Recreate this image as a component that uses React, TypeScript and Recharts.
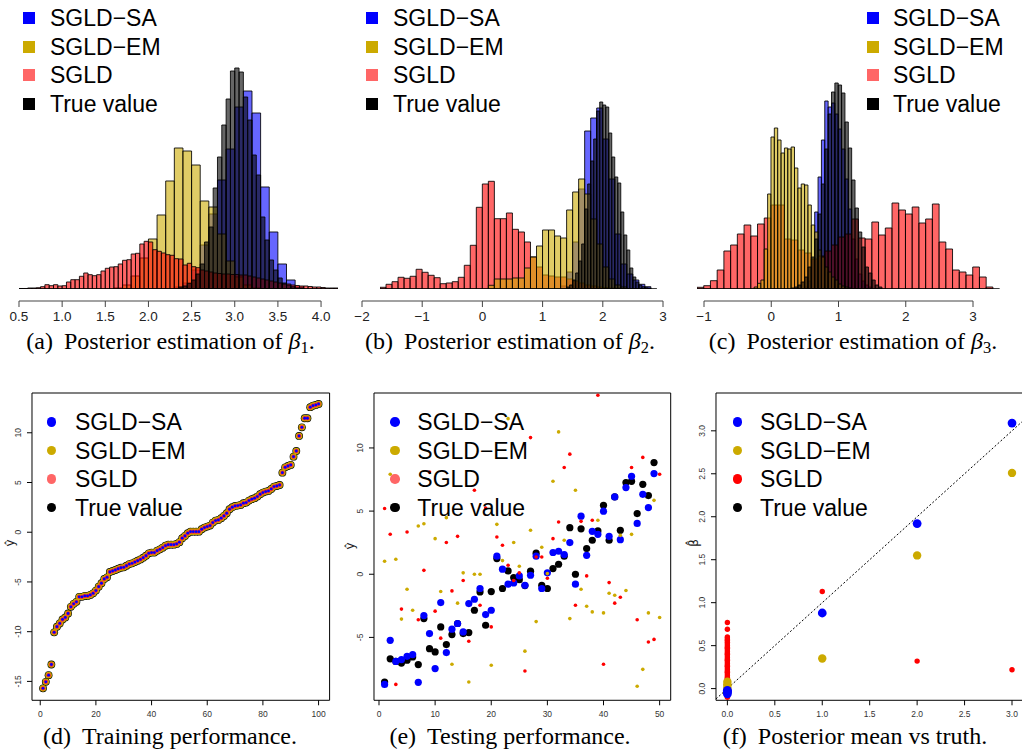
import React from "react";
import {
  BarChart,
  Bar,
  XAxis,
  YAxis,
  ReferenceLine,
  ReferenceArea,
  ScatterChart,
  Scatter,
} from "recharts";

const SANS = "'Liberation Sans', Arial, sans-serif";
const SERIF = "'Liberation Serif', 'Times New Roman', serif";

const BLUE = "#0000ff";
const GOLD = "#ccaa00";
const RED = "#ff0000";
const SALMON = "#ff6666";
const BLACK = "#000000";

const methods = ["SGLD−SA", "SGLD−EM", "SGLD", "True value"];

// ---------- (a) beta_1: bar heights, first bin starts at *Start ----------
const aSAStart = 2.3; // bin 0.1
const aSA = [2, 6, 19, 44, 75, 109, 140, 182, 198, 176, 102, 57, 25, 9, 2];
const aEMStart = 1.6; // bin 0.1
const aEM = [1, 4, 13, 31, 50, 74, 108, 141, 138, 124, 88, 82, 55, 28, 12, 4, 1];
const aSGLDStart = 0.5; // bin 0.05
const aSGLD = [
  0.5, 0.5, 1, 1, 1.3, 2.3, 4.3, 3.3, 4.3, 3,
  3.3, 7, 9.3, 9.3, 12.7, 16, 14.3, 13.3, 14.3, 18,
  20.7, 22, 22.3, 25, 28.7, 29.3, 35, 35.7, 45, 47.7,
  47, 39.3, 37.7, 36, 34.3, 33.7, 30.3, 30, 24, 25.7,
  22.3, 21.3, 19, 18, 17, 16, 15.5, 15, 15, 14.5,
  14.5, 14, 14, 13, 12, 11, 10, 9, 8, 7,
  6, 5, 5, 4, 3.5, 3, 3, 2.5, 2, 2,
  1.5, 1, 1, 1,
];
const aTrueStart = 2.35; // bin 0.05
const aTrue = [
  2, 3, 5.7, 9, 15, 25, 47, 62, 101, 132, 164, 190, 218, 221, 217, 192, 169,
  134, 114, 72, 49, 29, 19, 11, 6, 4, 2.3, 1, 1,
];

// ---------- (b) beta_2 ----------
const bSAStart = 1.3; // bin 0.1
const bSA = [3, 17, 47, 100, 158, 171, 181, 150, 110, 55, 25, 15, 9, 4.7, 2.3];
const bEMStart = 0.1; // bin 0.1
const bEM = [3.7, 10, 10, 10, 11, 11, 21, 32, 43, 59, 59, 53, 51, 79, 97, 110, 95, 70, 45, 22, 10, 4, 2];
const bSGLDStart = -1.7; // bin 0.1
const bSGLD = [
  1.7, 4.7, 7.3, 11.7, 10.7, 12.7, 19.7, 16.7, 13.7, 11.3,
  5.3, 6, 7.3, 11.7, 23.7, 43.7, 81.7, 105, 107.7, 70.3,
  70.3, 76, 59.7, 57, 47, 32, 22, 14, 13, 12,
  12, 10, 8, 6, 4, 3, 2, 1.5, 1, 1,
];
const bTrueStart = 1.4; // bin 0.05
const bTrue = [
  2, 4, 9, 16, 28, 45, 80, 105, 128, 150, 178, 187, 184, 182, 156, 132, 112,
  106, 77, 54, 39, 21, 12, 7, 4, 2.3, 1.3, 1,
];

// ---------- (c) beta_3 ----------
const cSAStart = 0.5; // bin 0.05
const cSA = [2, 8, 30, 77, 112, 149, 188, 182, 186, 175, 160, 140, 110, 80, 50, 30, 15, 8, 4, 2];
const cEMStart = -0.25; // bin 0.05
const cEM = [
  2, 5.7, 9, 40, 95, 152, 161, 149, 136, 141, 140, 142, 121, 101, 105, 104,
  84, 64, 57, 39, 32, 22, 17, 12, 9, 5, 3, 2, 1,
];
const cSGLDStart = -1.1; // bin 0.1
const cSGLD = [
  1.7, 3.3, 8.3, 19, 38, 44, 55, 64, 53, 65,
  71, 84, 84, 50, 49, 39, 36, 30, 33, 38,
  44, 52, 55, 70, 51, 50, 67, 54, 61, 86,
  79, 75, 82, 66, 70, 85, 47, 40, 19, 17,
  14, 22, 12, 2,
];
const cTrueStart = 0.3; // bin 0.05
const cTrue = [
  1, 2, 4, 7, 12, 22, 32, 50, 75, 105, 140, 175, 197, 206, 204, 196, 167, 141,
  109, 81, 57, 42, 22, 16, 9, 4, 2,
];

// ---------- (d) training: sorted responses, x = 1..100 ----------
const trainTrue = [
  -15.7, -15.04, -14.37, -13.3, -10.07, -9.5, -9.17, -8.77, -8.57, -8.17,
  -7.5, -7.2, -7.0, -6.5, -6.5, -6.4, -6.4, -6.3, -6.14, -5.87,
  -5.47, -5.13, -4.7, -4.53, -4.0, -3.9, -3.8, -3.67, -3.57, -3.53,
  -3.37, -3.2, -3.13, -3.0, -2.87, -2.73, -2.56, -2.36, -2.12, -2.05,
  -2.05, -1.85, -1.72, -1.55, -1.35, -1.25, -1.25, -1.25, -1.18, -1.0,
  -0.6, -0.37, -0.1, 0.06, 0.06, 0.06, 0.06, 0.3, 0.47, 0.57,
  0.67, 0.97, 1.17, 1.24, 1.41, 1.64, 1.91, 2.31, 2.51, 2.64,
  2.68, 2.75, 2.92, 2.98, 3.18, 3.32, 3.42, 3.59, 3.82, 3.99,
  4.09, 4.15, 4.35, 4.59, 4.65, 4.75, 5.99, 6.53, 6.66, 6.77,
  7.6, 8.17, 9.68, 10.55, 11.46, 11.46, 12.57, 12.73, 12.8, 12.9,
];
// the three fits sit on top of the truth at this scale
const trainSA = trainTrue;
const trainEM = trainTrue;
const trainSGLD = trainTrue;

// ---------- (e) testing, x = 1..50 ----------
const testTrue = [
  -8.53, -6.7, -6.9, -7.03, -6.81, -6.55, -7.15, -3.51, -5.89, -6.15,
  -4.17, -5.57, -4.78, -3.9, -4.7, -4.62, -2.85, -1.4, -4.04, -1.37,
  1.24, -1.13, 0.26, -0.26, -0.43, -0.9, 0.24, 1.67, -0.87, -1.13,
  0.45, 0.79, 1.43, 3.69, 0.0, 3.6, 2.03, 2.69, 3.43, 5.46,
  2.69, 6.12, 3.48, 7.26, 7.36, 4.8, 7.12, 6.23, 8.84,
];
const testSA = [
  -8.72, -5.23, -6.9, -6.76, -6.5, -6.36, -8.56, -3.27, -4.7, -7.47,
  -2.24, -6.2, -4.35, -3.9, -4.57, -2.32, -1.98, -1.13, -3.19, -2.85,
  1.43, 0.4, -0.79, -0.69, -0.13, -0.87, -0.08, 1.43, -1.13, 0.11,
  1.72, 1.82, 1.56, 2.51, -0.79, 4.6, 1.5, 3.4, 3.16, 4.99,
  3.0, 6.12, 2.74, 6.86, 7.76, 4.02, 6.33, 5.28, 7.97,
];
const testEM = [
  1.03, 7.92, 1.19, -3.55, -1.19, -2.85, 3.82, 4.0, null, 2.82,
  -1.37, 4.48, -7.13, -2.29, 0.11, -8.53, 0.0, 0.0, null, -7.2,
  3.95, 1.08, 12.32, 2.51, 0.63, -6.09, 3.48, -3.75, 2.14, 0.05,
  7.36, 11.27, 2.69, -3.51, 6.65, -1.19, -2.53, -2.98, 4.27, -3.06,
  -1.5, -1.66, 3.08, -1.29, 3.16, -8.87, -7.53, -3.06, 5.85, -3.43,
];
const testSGLD = [
  5.2, 3.17, -8.72, -2.76, 3.35, null, -3.6, 0.31, 8.1, -2.92,
  -5.06, 2.51, -1.32, 3.0, -0.5, -5.3, 6.65, -2.45, 5.25, -4.17,
  2.95, 2.29, 0.71, -0.5, 0.11, -7.66, 10.82, 1.37, 1.37, -0.32,
  2.82, 4.14, 8.45, 9.51, -2.45, 4.19, -0.13, 4.27, 14.17, -7.13,
  -0.66, -2.29, -1.82, null, 8.45, -3.6, 9.25, -5.37, -5.16, 7.92,
];

// ---------- (f) posterior mean vs truth ----------
const fTruth = [1, 2, 3];
const fSA = [0.88, 1.92, 3.09];
const fEM = [0.35, 1.55, 2.51];
const fSGLD = [1.13, 0.32, 0.22];
const fSAZero = [-0.06, -0.04, -0.03, -0.02];
const fEMZero = [0.08, 0.05, 0.03, 0.0, -0.03];
const fSGLDZero = [
  0.77, 0.69, 0.6, 0.59, 0.57, 0.56, 0.54, 0.52, 0.5, 0.48, 0.47, 0.45, 0.43,
  0.41, 0.4, 0.38, 0.36, 0.34, 0.33, 0.31, 0.29, 0.27, 0.26, 0.24, 0.22, 0.2,
  0.19, 0.17, 0.15, 0.13, 0.12, 0.1, 0.08, 0.06, 0.05, 0.03, 0.01, -0.01,
  -0.03, -0.05, -0.08, -0.1,
];

// ---------------------------------------------------------------------

type HSeries = { start: number; counts: number[]; color: string };
type HLayer = { w: number; series: HSeries[] };

const BASE_Y = 289; // histogram baseline in page px
const HIST_H = 240;

function HistLayer({ lo, hi, a, b, layer, baseline }: any) {
  const n = Math.round((hi - lo) / layer.w);
  const rows: any[] = [];
  for (let i = 0; i < n; i++) {
    const row: any = { bin: i };
    layer.series.forEach((s: HSeries, j: number) => {
      const off = Math.round((s.start - lo) / layer.w);
      const v = s.counts[i - off];
      row["s" + j] = v === undefined ? 0 : v;
    });
    rows.push(row);
  }
  const width = (hi - lo) * b;
  const band = width / n;
  return (
    <div style={{ position: "absolute", left: a + b * lo, top: BASE_Y - HIST_H }}>
      <BarChart
        width={width}
        height={HIST_H}
        data={rows}
        margin={{ top: 0, right: 0, bottom: 0, left: 0 }}
        barCategoryGap={0}
        barGap={0}
      >
        {layer.series.map((_: HSeries, j: number) => (
          <XAxis key={"x" + j} xAxisId={j} dataKey="bin" hide />
        ))}
        <YAxis hide domain={[0, HIST_H]} allowDataOverflow />
        {layer.series.map((s: HSeries, j: number) => (
          <Bar
            key={"b" + j}
            xAxisId={j}
            dataKey={"s" + j}
            fill={s.color}
            fillOpacity={0.6}
            stroke="#000"
            strokeOpacity={0.85}
            strokeWidth={1}
            barSize={band - 0.01}
            isAnimationActive={false}
          />
        ))}
        {baseline && <ReferenceLine xAxisId={0} y={0} stroke="#000" strokeWidth={1.5} />}
      </BarChart>
    </div>
  );
}

function HistAxis({ a, b, ticks, fmt }: any) {
  const first = ticks[0];
  const last = ticks[ticks.length - 1];
  const x0 = a + b * first;
  const x1 = a + b * last;
  const pad = 22;
  return (
    <div style={{ position: "absolute", left: x0 - pad, top: 300 }}>
      <BarChart
        width={x1 - x0 + 2 * pad}
        height={31}
        data={[{ v: first }, { v: last }]}
        margin={{ top: 0, right: pad, bottom: 0, left: pad }}
      >
        <XAxis
          type="number"
          dataKey="v"
          domain={[first, last]}
          ticks={ticks}
          allowDataOverflow
          interval={0}
          height={30}
          stroke="#444"
          tickSize={6}
          tickMargin={4}
          tick={{ fontSize: 13.5, fill: "#222", fontFamily: SANS }}
          tickFormatter={fmt}
        />
        <YAxis hide />
      </BarChart>
    </div>
  );
}

function HistLegend({ sqX, txtX }: { sqX: number; txtX: number }) {
  const colors = [BLUE, GOLD, SALMON, BLACK];
  const rows = [18, 46.5, 75, 103.5];
  return (
    <>
      {methods.map((m, i) => (
        <React.Fragment key={m}>
          <div
            style={{
              position: "absolute",
              left: sqX,
              top: rows[i] - 6,
              width: 12,
              height: 12,
              background: colors[i],
            }}
          />
          <div
            style={{
              position: "absolute",
              left: txtX,
              top: rows[i] - 14,
              height: 28,
              lineHeight: "28px",
              fontFamily: SANS,
              fontSize: 23,
              whiteSpace: "nowrap",
            }}
          >
            {m}
          </div>
        </React.Fragment>
      ))}
    </>
  );
}

function DotLegend({ dotX, txtX, colors }: { dotX: number; txtX: number; colors: string[] }) {
  const rows = [422, 450.5, 479, 507.5];
  return (
    <>
      {methods.map((m, i) => (
        <React.Fragment key={m}>
          <div
            style={{
              position: "absolute",
              left: dotX - 4.8,
              top: rows[i] - 4.8,
              width: 9.6,
              height: 9.6,
              borderRadius: "50%",
              background: colors[i],
            }}
          />
          <div
            style={{
              position: "absolute",
              left: txtX,
              top: rows[i] - 14,
              height: 28,
              lineHeight: "28px",
              fontFamily: SANS,
              fontSize: 23,
              whiteSpace: "nowrap",
            }}
          >
            {m}
          </div>
        </React.Fragment>
      ))}
    </>
  );
}

function Caption({ cx, top, tag, text, sub }: any) {
  return (
    <div
      style={{
        position: "absolute",
        left: cx - 200,
        top,
        width: 400,
        textAlign: "center",
        fontFamily: SERIF,
        fontSize: 24,
        lineHeight: "26px",
        whiteSpace: "nowrap",
      }}
    >
      <span>{tag}</span>
      <span style={{ marginLeft: 11 }}>{text}</span>
      {sub && (
        <>
          <i>β</i>
          <span style={{ fontSize: 16.5, position: "relative", top: 4 }}>{sub}</span>.
        </>
      )}
    </div>
  );
}

function RotTick(props: any) {
  const { x, y, payload, fmt } = props;
  return (
    <text
      x={x}
      y={y}
      transform={`rotate(-90 ${x} ${y})`}
      textAnchor="middle"
      fontSize={8.5}
      fill="#333"
      fontFamily={SANS}
    >
      {fmt(payload.value)}
    </text>
  );
}

function YLabel({ x, y, text }: any) {
  return (
    <div
      style={{
        position: "absolute",
        left: x,
        top: y,
        transform: "translate(-50%, -50%) rotate(-90deg)",
        fontFamily: "'DejaVu Sans', sans-serif",
        fontSize: 12,
        color: "#222",
        whiteSpace: "nowrap",
      }}
    >
      {text}
    </div>
  );
}

type PSeries = { data: { x: number; y: number }[]; color: string; r: number };

function ScatterPanel({ box, xDomain, yDomain, xTicks, yTicks, fmt, series, diag }: any) {
  const ML = 40;
  const MT = 10;
  const MR = 12;
  const XH = 30;
  return (
    <div style={{ position: "absolute", left: box.x - ML, top: box.y - MT }}>
      <ScatterChart
        width={box.w + ML + MR}
        height={box.h + MT + XH}
        margin={{ top: MT, right: MR, bottom: 0, left: 0 }}
      >
        <XAxis
          type="number"
          dataKey="x"
          domain={xDomain}
          ticks={xTicks}
          allowDataOverflow
          interval={0}
          axisLine={false}
          tickLine={{ stroke: "#000" }}
          tickSize={5}
          tickMargin={6}
          height={XH}
          tick={{ fontSize: 8.5, fill: "#333", fontFamily: SANS }}
          tickFormatter={fmt}
        />
        <YAxis
          type="number"
          dataKey="y"
          domain={yDomain}
          ticks={yTicks}
          allowDataOverflow
          interval={0}
          axisLine={false}
          tickLine={{ stroke: "#000" }}
          tickSize={5}
          tickMargin={6}
          width={ML}
          tick={(p: any) => <RotTick {...p} fmt={fmt} />}
        />
        <ReferenceArea
          x1={xDomain[0]}
          x2={xDomain[1]}
          y1={yDomain[0]}
          y2={yDomain[1]}
          fill="none"
          stroke="#000"
          strokeWidth={1}
        />
        {diag && (
          <ReferenceLine
            segment={[
              { x: xDomain[0], y: xDomain[0] },
              { x: xDomain[1], y: xDomain[1] },
            ]}
            stroke="#000"
            strokeDasharray="2 2"
            strokeWidth={1}
          />
        )}
        {series.map((s: PSeries, i: number) => (
          <Scatter
            key={i}
            data={s.data}
            isAnimationActive={false}
            shape={(p: any) => <circle cx={p.cx} cy={p.cy} r={s.r} fill={s.color} />}
          />
        ))}
      </ScatterChart>
    </div>
  );
}

const fmtMinus = (v: number) => String(v).replace("-", "−");
const fmt1 = (v: number) => v.toFixed(1);

const byIndex = (arr: (number | null)[]) =>
  arr
    .map((y, i) => ({ x: i + 1, y }))
    .filter((d) => d.y !== null) as { x: number; y: number }[];
const atZero = (arr: number[]) => arr.map((y) => ({ x: 0, y }));
const atTruth = (arr: number[]) => arr.map((y, i) => ({ x: fTruth[i], y }));

export default function App() {
  const histA: HLayer[] = [
    {
      w: 0.1,
      series: [
        { start: aSAStart, counts: aSA, color: BLUE },
        { start: aEMStart, counts: aEM, color: GOLD },
      ],
    },
    {
      w: 0.05,
      series: [
        { start: aSGLDStart, counts: aSGLD, color: RED },
        { start: aTrueStart, counts: aTrue, color: BLACK },
      ],
    },
  ];
  const histB: HLayer[] = [
    {
      w: 0.1,
      series: [
        { start: bSAStart, counts: bSA, color: BLUE },
        { start: bSGLDStart, counts: bSGLD, color: RED },
        { start: bEMStart, counts: bEM, color: GOLD },
      ],
    },
    { w: 0.05, series: [{ start: bTrueStart, counts: bTrue, color: BLACK }] },
  ];
  const histC: HLayer[] = [
    { w: 0.05, series: [{ start: cSAStart, counts: cSA, color: BLUE }] },
    { w: 0.1, series: [{ start: cSGLDStart, counts: cSGLD, color: RED }] },
    {
      w: 0.05,
      series: [
        { start: cEMStart, counts: cEM, color: GOLD },
        { start: cTrueStart, counts: cTrue, color: BLACK },
      ],
    },
  ];

  const panels = [
    { lo: 0.5, hi: 4.2, a: 19 - 0.5 * 86.3, b: 86.3, layers: histA, ticks: [0.5, 1, 1.5, 2, 2.5, 3, 3.5, 4], fmt: fmt1 },
    { lo: -1.7, hi: 2.9, a: 482.7, b: 60.2, layers: histB, ticks: [-2, -1, 0, 1, 2, 3], fmt: fmtMinus },
    { lo: -1.1, hi: 3.4, a: 771, b: 67.25, layers: histC, ticks: [-1, 0, 1, 2, 3], fmt: fmtMinus },
  ];

  return (
    <div
      style={{
        position: "absolute",
        left: 0,
        top: 0,
        width: 1022,
        height: 753,
        overflow: "hidden",
        background: "#fff",
      }}
    >
      {panels.map((p, pi) => (
        <React.Fragment key={pi}>
          <HistAxis a={p.a} b={p.b} ticks={p.ticks} fmt={p.fmt} />
          {p.layers.map((layer, li) => (
            <HistLayer
              key={li}
              lo={p.lo}
              hi={p.hi}
              a={p.a}
              b={p.b}
              layer={layer}
              baseline={li === p.layers.length - 1}
            />
          ))}
        </React.Fragment>
      ))}
      <HistLegend sqX={22.5} txtX={50} />
      <HistLegend sqX={366} txtX={393} />
      <HistLegend sqX={867} txtX={893} />

      <Caption cx={170.5} top={328} tag="(a)" text="Posterior estimation of " sub="1" />
      <Caption cx={510} top={328} tag="(b)" text="Posterior estimation of " sub="2" />
      <Caption cx={853} top={328} tag="(c)" text="Posterior estimation of " sub="3" />

      {/* (d) training */}
      <ScatterPanel
        box={{ x: 31.7, y: 392.7, w: 297.6, h: 307.3 }}
        xDomain={[-2.96, 103.96]}
        yDomain={[-16.9, 14.0]}
        xTicks={[0, 20, 40, 60, 80, 100]}
        yTicks={[-15, -10, -5, 0, 5, 10]}
        fmt={(v: number) => String(v)}
        series={[
          { data: byIndex(trainTrue), color: BLACK, r: 3.9 },
          { data: byIndex(trainEM), color: "#c9a800", r: 3.3 },
          { data: byIndex(trainSGLD), color: "#ff2a2a", r: 2.2 },
          { data: byIndex(trainSA), color: BLUE, r: 1.4 },
        ]}
      />
      <YLabel x={9.5} y={543} text="ŷ" />
      <DotLegend dotX={51.7} txtX={75} colors={[BLUE, GOLD, SALMON, BLACK]} />

      {/* (e) testing */}
      <ScatterPanel
        box={{ x: 374.3, y: 392.7, w: 296.7, h: 307.3 }}
        xDomain={[-0.89, 51.97]}
        yDomain={[-9.98, 14.35]}
        xTicks={[0, 10, 20, 30, 40, 50]}
        yTicks={[-5, 0, 5, 10]}
        fmt={(v: number) => String(v)}
        series={[
          { data: byIndex(testTrue), color: BLACK, r: 3.6 },
          { data: byIndex(testSA), color: BLUE, r: 3.6 },
          { data: byIndex(testEM), color: GOLD, r: 1.8 },
          { data: byIndex(testSGLD), color: RED, r: 1.8 },
        ]}
      />
      <YLabel x={350} y={546} text="ŷ" />
      <DotLegend dotX={395} txtX={417.3} colors={[BLUE, GOLD, SALMON, BLACK]} />

      {/* (f) posterior mean vs truth */}
      <ScatterPanel
        box={{ x: 716.3, y: 392.7, w: 307.4, h: 307.3 }}
        xDomain={[-0.12, 3.12]}
        yDomain={[-0.136, 3.44]}
        xTicks={[0, 0.5, 1, 1.5, 2, 2.5, 3]}
        yTicks={[0, 0.5, 1, 1.5, 2, 2.5, 3]}
        fmt={fmt1}
        diag
        series={[
          { data: [...atZero(fSGLDZero), ...atTruth(fSGLD)], color: RED, r: 2.7 },
          { data: [...atZero(fEMZero), ...atTruth(fEM)], color: GOLD, r: 4.2 },
          { data: [...atZero(fSAZero), ...atTruth(fSA)], color: BLUE, r: 4.4 },
        ]}
      />
      <YLabel x={693.5} y={543} text="β̂" />
      <DotLegend dotX={737.3} txtX={760} colors={[BLUE, GOLD, RED, BLACK]} />

      <Caption cx={170} top={723} tag="(d)" text="Training performance." />
      <Caption cx={510} top={723} tag="(e)" text="Testing performance." />
      <Caption cx={855} top={723} tag="(f)" text="Posterior mean vs truth." />
    </div>
  );
}
